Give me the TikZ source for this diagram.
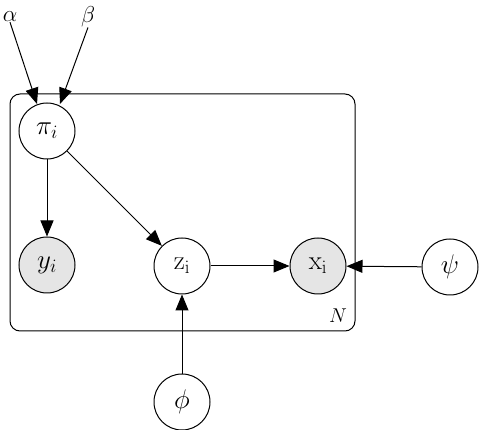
\RequirePackage{fix-cm}
\documentclass[tikz,border=0pt]{standalone}
\usetikzlibrary{arrows.meta}
\begin{document}
\begin{tikzpicture}[x=1pt,y=-1pt,
  var/.style={circle,draw,line width=1pt,minimum size=56pt,inner sep=0pt,font=\fontsize{27}{31}\selectfont},
  obs/.style={var,fill=gray!20},
  conn/.style={line width=1pt,-{Triangle[length=16pt,width=13pt]}},
  lbl/.style={inner sep=0pt,font=\fontsize{23}{27}\selectfont}]
\useasboundingbox (0,0) rectangle (482,430);
\draw[line width=1pt,rounded corners=10pt] (10,94) rectangle (355,331);
\node[inner sep=0pt,font=\fontsize{20}{24}\selectfont] (N) at (338,316) {$N$};
\node[var] (pi) at (47,131) {$\pi_i$};
\node[obs] (y) at (47,265) {$y_i$};
\node[var] (z) at (182,266) {$\mathrm{z_i}$};
\node[obs] (x) at (318,266) {$\mathrm{x_i}$};
\node[var] (psi) at (450,267) {$\psi$};
\node[var] (phi) at (182,402) {$\phi$};
\node[lbl] (a) at (10,17) {$\alpha$};
\node[lbl] (b) at (88,17) {$\beta$};
\coordinate (ta) at (37,104);
\coordinate (tb) at (60,104);
\draw[conn] (a.south) -- (ta);
\draw[conn] (b.south) -- (tb);
\draw[conn] (pi) -- (y);
\draw[conn] (pi) -- (z);
\draw[conn] (z) -- (x);
\draw[conn] (psi) -- (x);
\draw[conn] (phi) -- (z);
\end{tikzpicture}
\end{document}
